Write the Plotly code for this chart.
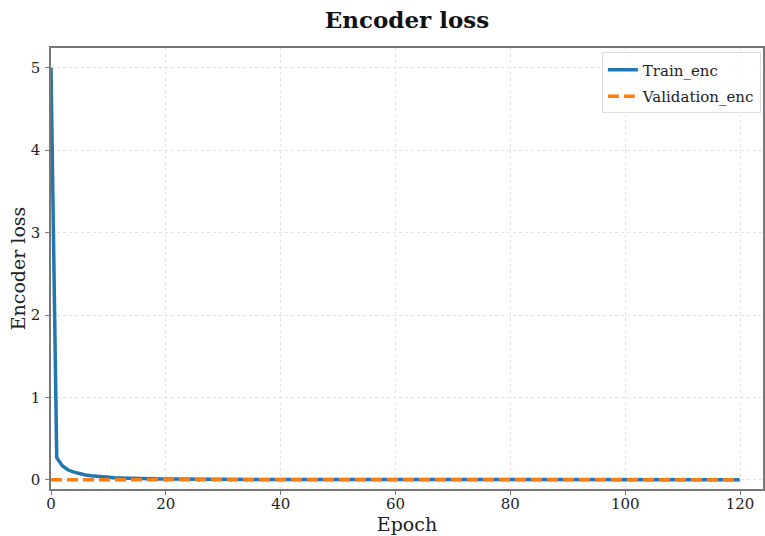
import plotly.graph_objects as go

epochs = list(range(0, 121))
train_enc = [
    5.00, 0.27, 0.17, 0.12, 0.095, 0.075, 0.060, 0.050, 0.042, 0.036,
    0.031, 0.027, 0.024, 0.021, 0.019, 0.017, 0.015, 0.014, 0.013, 0.012,
    0.011, 0.010, 0.0095, 0.009, 0.0085, 0.008, 0.0077, 0.0074, 0.0071, 0.0068,
    0.0066, 0.0064, 0.0062, 0.0060, 0.0058, 0.0057, 0.0056, 0.0055, 0.0054, 0.0053,
    0.0052, 0.0051, 0.0050, 0.0049, 0.0048, 0.0048, 0.0047, 0.0046, 0.0046, 0.0045,
    0.0045, 0.0044, 0.0044, 0.0043, 0.0043, 0.0042, 0.0042, 0.0041, 0.0041, 0.0041,
    0.0040, 0.0040, 0.0040, 0.0039, 0.0039, 0.0039, 0.0038, 0.0038, 0.0038, 0.0038,
    0.0037, 0.0037, 0.0037, 0.0037, 0.0036, 0.0036, 0.0036, 0.0036, 0.0036, 0.0035,
    0.0035, 0.0035, 0.0035, 0.0035, 0.0034, 0.0034, 0.0034, 0.0034, 0.0034, 0.0034,
    0.0033, 0.0033, 0.0033, 0.0033, 0.0033, 0.0033, 0.0033, 0.0032, 0.0032, 0.0032,
    0.0032, 0.0032, 0.0032, 0.0032, 0.0032, 0.0031, 0.0031, 0.0031, 0.0031, 0.0031,
    0.0031, 0.0031, 0.0031, 0.0031, 0.0030, 0.0030, 0.0030, 0.0030, 0.0030, 0.0030,
    0.0030,
]
validation_enc = [
    0.0020, 0.0019, 0.0019, 0.0018, 0.0018, 0.0018, 0.0017, 0.0017, 0.0017, 0.0017,
    0.0017, 0.0016, 0.0016, 0.0016, 0.0016, 0.0016, 0.0016, 0.0016, 0.0016, 0.0015,
    0.0015, 0.0015, 0.0015, 0.0015, 0.0015, 0.0015, 0.0015, 0.0015, 0.0015, 0.0015,
    0.0015, 0.0015, 0.0015, 0.0015, 0.0015, 0.0015, 0.0015, 0.0015, 0.0015, 0.0015,
    0.0015, 0.0015, 0.0015, 0.0015, 0.0015, 0.0015, 0.0015, 0.0015, 0.0015, 0.0015,
    0.0015, 0.0015, 0.0015, 0.0015, 0.0015, 0.0015, 0.0015, 0.0015, 0.0015, 0.0015,
    0.0015, 0.0015, 0.0015, 0.0015, 0.0015, 0.0015, 0.0015, 0.0015, 0.0015, 0.0015,
    0.0015, 0.0015, 0.0015, 0.0015, 0.0015, 0.0015, 0.0015, 0.0015, 0.0015, 0.0015,
    0.0015, 0.0015, 0.0015, 0.0015, 0.0015, 0.0015, 0.0015, 0.0015, 0.0015, 0.0015,
    0.0015, 0.0015, 0.0015, 0.0015, 0.0015, 0.0015, 0.0015, 0.0015, 0.0015, 0.0015,
    0.0015, 0.0015, 0.0015, 0.0015, 0.0015, 0.0015, 0.0015, 0.0015, 0.0015, 0.0015,
    0.0015, 0.0015, 0.0015, 0.0015, 0.0015, 0.0015, 0.0015, 0.0015, 0.0015, 0.0015,
    0.0015,
]
x_ticks = [0, 20, 40, 60, 80, 100, 120]
y_ticks = [0, 1, 2, 3, 4, 5]

FONT = "DejaVu Serif"

fig = go.Figure()
fig.add_trace(go.Scatter(x=epochs, y=train_enc, mode="lines", name="Train_enc",
                         legendgroup="a",
                         line=dict(color="#1f77b4", width=3.5)))
fig.add_trace(go.Scatter(x=epochs, y=validation_enc, mode="lines", name="Validation_enc",
                         legendgroup="b",
                         line=dict(color="#ff7f0e", width=3.5, dash="11px,5px")))

fig.update_layout(
    width=765, height=536,
    margin=dict(l=51, r=2, t=48, b=47, autoexpand=False),
    paper_bgcolor="white", plot_bgcolor="white",
    font=dict(family=FONT, color="#222222", size=14),
    title=dict(text="<b>Encoder loss</b>", x=0.532, xanchor="center", y=0.962, yanchor="middle",
               font=dict(family=FONT, size=23, color="#111111")),
    legend=dict(x=0.997, y=0.99, xanchor="right", yanchor="top",
                bgcolor="rgba(255,255,255,0.85)", bordercolor="#dddddd", borderwidth=1,
                tracegroupgap=4,
                font=dict(family=FONT, size=15, color="#222222")),
    showlegend=True,
)
fig.update_xaxes(
    range=[0, 124], tickvals=x_ticks, ticktext=[str(v) for v in x_ticks],
    title=dict(text="Epoch", font=dict(family=FONT, size=19), standoff=0),
    showgrid=True, gridcolor="#e3e3e3", griddash="dot", gridwidth=1,
    showline=True, linecolor="#777777", linewidth=1.5, mirror=True,
    ticks="outside", ticklen=4, tickcolor="#777777", zeroline=False,
    tickfont=dict(family=FONT, size=15), automargin=False, ticklabelstandoff=-4,
)
fig.update_yaxes(
    range=[-0.11, 5.24], tickvals=y_ticks, ticktext=[str(v) for v in y_ticks],
    title=dict(text="Encoder loss", font=dict(family=FONT, size=19), standoff=0),
    showgrid=True, gridcolor="#e3e3e3", griddash="dot", gridwidth=1,
    showline=True, linecolor="#777777", linewidth=1.5, mirror=True,
    ticks="outside", ticklen=4, tickcolor="#777777", zeroline=False,
    tickfont=dict(family=FONT, size=15), automargin=False, ticklabelstandoff=2,
)

fig.write_html("out.html", config={"displayModeBar": False},
               post_script="document.body.style.margin='0';")
